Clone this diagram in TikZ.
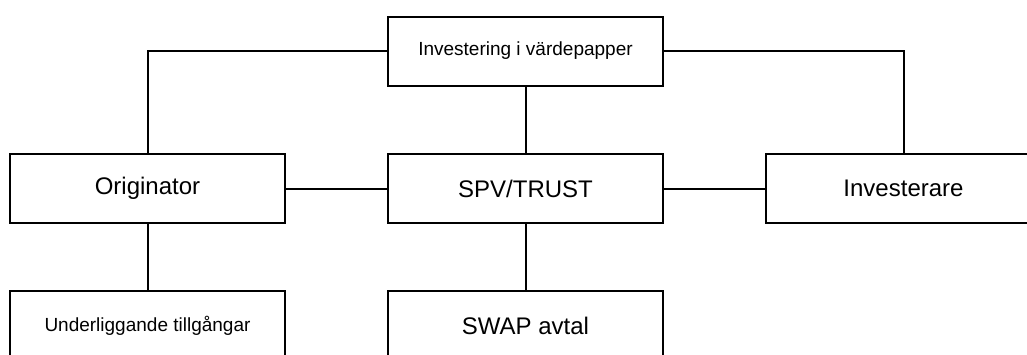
\documentclass[tikz,border=0pt]{standalone}
\usepackage{fontspec}
\setmainfont{Liberation Sans}
\begin{document}
\begin{tikzpicture}[x=1pt,y=-1pt,
  box/.style={draw=black,line width=2pt,fill=white,minimum width=275pt,minimum height=69pt,inner sep=0pt,anchor=center},
  big/.style={font=\fontsize{24}{27}\selectfont},
  small/.style={font=\fontsize{19}{22}\selectfont},
  link/.style={draw=black,line width=2pt}]
\useasboundingbox (0,0) rectangle (1027,354);
\clip (0,0) rectangle (1027,354);
\node[box,small] (top) at (525.5,51) {Investering i värdepapper};
\node[box,big] (orig) at (147.5,188.5) {Originator};
\node[box,big] (spv) at (525.5,188.5) {SPV/TRUST};
\node[box,big] (inv) at (903.5,188.5) {Investerare};
\node[box,small] (und) at (147.5,325.5) {Underliggande tillgångar};
\node[box,big] (swap) at (525.5,325.5) {SWAP avtal};
\draw[link] (top.west) -| (orig.north);
\draw[link] (top.east) -| (inv.north);
\draw[link] (top.south) -- (spv.north);
\draw[link] (orig.east) -- (spv.west);
\draw[link] (spv.east) -- (inv.west);
\draw[link] (orig.south) -- (und.north);
\draw[link] (spv.south) -- (swap.north);
\end{tikzpicture}
\end{document}
